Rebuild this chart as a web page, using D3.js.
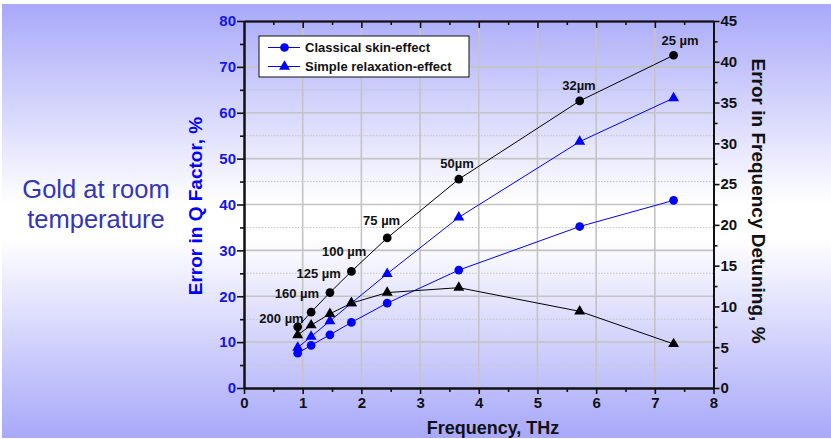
<!DOCTYPE html>
<html>
<head>
<meta charset="utf-8">
<script src="https://cdn.jsdelivr.net/npm/d3@7"></script>
<style>
  html, body { margin: 0; padding: 0; background: #ffffff; }
  svg { display: block; font-family: "Liberation Sans", Arial, sans-serif; }
</style>
</head>
<body>
<svg id="chart" width="831" height="439"></svg>
<script>
// ---- data ----
const freqTHz = [0.915, 1.144, 1.464, 1.83, 2.44, 3.66, 5.72, 7.32];
const skinQ   = [7.6, 9.3, 11.6, 14.3, 18.5, 25.7, 35.2, 40.9];
const relaxQ  = [8.8, 11.2, 14.6, 18.5, 24.9, 37.2, 53.7, 63.2];
const skinDet = [7.5, 9.3, 11.7, 14.3, 18.4, 25.6, 35.2, 40.8];
const relaxDet = [6.5, 7.7, 9.1, 10.4, 11.7, 12.3, 9.4, 5.4];
const thicknessLabels = ["200 \u00b5m", "160 \u00b5m", "125 \u00b5m", "100 \u00b5m", "75 \u00b5m", "50\u00b5m", "32\u00b5m", "25 \u00b5m"];
const xTicks = [0, 1, 2, 3, 4, 5, 6, 7, 8];
const leftTicks = [0, 10, 20, 30, 40, 50, 60, 70, 80];
const rightTicks = [0, 5, 10, 15, 20, 25, 30, 35, 40, 45];
const legendLabels = ["Classical skin-effect", "Simple relaxation-effect"];
const sideText = ["Gold at room", "temperature"];

// ---- layout ----
const svg = d3.select("#chart");
const X0 = 244, X1 = 713.5, Y0 = 388, Y1 = 21;
const x = d3.scaleLinear().domain([0, 8]).range([X0, X1]);
const yL = d3.scaleLinear().domain([0, 80]).range([Y0, Y1]);
const yR = d3.scaleLinear().domain([0, 45]).range([Y0, Y1]);
const BLUE = "#0000ff", TICKBLUE = "#1414f0";

// background gradient
const defs = svg.append("defs");
const g = defs.append("linearGradient").attr("id", "bg").attr("x1", 0).attr("y1", 0).attr("x2", 0).attr("y2", 1);
g.append("stop").attr("offset", "0").attr("stop-color", "#a8a8fa");
g.append("stop").attr("offset", "0.46").attr("stop-color", "#ffffff");
g.append("stop").attr("offset", "0.54").attr("stop-color", "#ffffff");
g.append("stop").attr("offset", "1").attr("stop-color", "#a8a8fa");
svg.append("rect").attr("x", 2).attr("y", 4).attr("width", 829).attr("height", 434).attr("fill", "url(#bg)");

// side text
svg.append("text").attr("x", 96).attr("text-anchor", "middle")
  .attr("fill", "#3535b8").attr("font-size", 25.5)
  .selectAll("tspan").data(sideText).join("tspan")
  .attr("x", 96).attr("y", (d, i) => 198 + i * 30).text(d => d);

// grid
const grid = svg.append("g");
grid.selectAll(".minh").data(d3.range(5, 80, 10)).join("line")
  .attr("x1", X0).attr("x2", X1).attr("y1", d => yL(d)).attr("y2", d => yL(d))
  .attr("stroke", "#c4c4c4").attr("stroke-width", 1).attr("stroke-dasharray", "1.5,1.5");
grid.selectAll(".majh").data(leftTicks.slice(1, -1)).join("line")
  .attr("x1", X0).attr("x2", X1).attr("y1", d => yL(d)).attr("y2", d => yL(d))
  .attr("stroke", "#c4c4c4").attr("stroke-width", 1.6);
grid.selectAll(".majv").data(xTicks.slice(1, -1)).join("line")
  .attr("y1", Y0).attr("y2", Y1).attr("x1", d => x(d)).attr("x2", d => x(d))
  .attr("stroke", "#c4c4c4").attr("stroke-width", 1.6);

// axes
function styleAxis(sel, color) {
  sel.selectAll("path").attr("stroke", "#111").attr("stroke-width", 2);
  sel.selectAll("line").attr("stroke", "#111").attr("stroke-width", 1.6);
  sel.selectAll("text").attr("fill", color).attr("font-size", 15).attr("font-weight", "bold")
    .attr("font-family", "'Liberation Sans', Arial, sans-serif");
}
const halfX = d3.range(0.5, 8, 1);
// bottom
svg.append("g").attr("transform", `translate(0,${Y0})`)
  .call(d3.axisBottom(x).tickValues(halfX).tickSize(4).tickFormat("").tickSizeOuter(0))
  .call(s => styleAxis(s, "#111"));
svg.append("g").attr("transform", `translate(0,${Y0})`)
  .call(d3.axisBottom(x).tickValues(xTicks).tickSize(6).tickPadding(3).tickSizeOuter(0).tickFormat(d3.format("d")))
  .call(s => styleAxis(s, "#111"));
// top (inward ticks)
svg.append("g").attr("transform", `translate(0,${Y1})`)
  .call(d3.axisBottom(x).tickValues(halfX).tickSize(4).tickFormat("").tickSizeOuter(0))
  .call(s => styleAxis(s, "#111"));
svg.append("g").attr("transform", `translate(0,${Y1})`)
  .call(d3.axisBottom(x).tickValues(xTicks.slice(1, -1)).tickSize(7).tickFormat("").tickSizeOuter(0))
  .call(s => { styleAxis(s, "#111"); s.select("path").attr("stroke-width", 1.4); });
// left
svg.append("g").attr("transform", `translate(${X0},0)`)
  .call(d3.axisLeft(yL).tickValues(d3.range(5, 80, 10)).tickSize(4).tickFormat("").tickSizeOuter(0))
  .call(s => styleAxis(s, TICKBLUE));
svg.append("g").attr("transform", `translate(${X0},0)`)
  .call(d3.axisLeft(yL).tickValues(leftTicks).tickSize(7).tickPadding(1).tickSizeOuter(0))
  .call(s => styleAxis(s, TICKBLUE));
// right
svg.append("g").attr("transform", `translate(${X1},0)`)
  .call(d3.axisRight(yR).tickValues(d3.range(2.5, 45, 5)).tickSize(4).tickFormat("").tickSizeOuter(0))
  .call(s => styleAxis(s, "#111"));
svg.append("g").attr("transform", `translate(${X1},0)`)
  .call(d3.axisRight(yR).tickValues(rightTicks).tickSize(6).tickPadding(1).tickSizeOuter(0))
  .call(s => styleAxis(s, "#111"));

// axis titles
svg.append("text").attr("x", 493).attr("y", 434).attr("text-anchor", "middle")
  .attr("font-size", 18).attr("font-weight", "bold").attr("fill", "#111").text("Frequency, THz");
svg.append("text").attr("transform", "translate(202,206) rotate(-90)").attr("text-anchor", "middle")
  .attr("font-size", 19).attr("font-weight", "bold").attr("fill", BLUE).text("Error in Q Factor, %");
svg.append("text").attr("transform", "translate(752,201) rotate(90)").attr("text-anchor", "middle")
  .attr("font-size", 19).attr("font-weight", "bold").attr("fill", "#111").text("Error in Frequency Detuning, %");

// series
const series = [
  { vals: skinQ, y: yL, color: BLUE, sym: d3.symbolCircle, size: 60 },
  { vals: relaxQ, y: yL, color: BLUE, sym: d3.symbolTriangle, size: 52 },
  { vals: skinDet, y: yR, color: "#000", sym: d3.symbolCircle, size: 60 },
  { vals: relaxDet, y: yR, color: "#000", sym: d3.symbolTriangle, size: 52 }
];
series.forEach(s => {
  const pts = freqTHz.map((f, i) => [x(f), s.y(s.vals[i])]);
  svg.append("path").attr("d", d3.line()(pts)).attr("fill", "none")
    .attr("stroke", s.color).attr("stroke-width", 1);
  svg.append("g").selectAll("path").data(pts).join("path")
    .attr("transform", d => `translate(${d[0]},${d[1]})`)
    .attr("d", d3.symbol().type(s.sym).size(s.size)).attr("fill", s.color);
});

// thickness labels
const labelOffsets = [[6, -4], [8, -14], [11, -15], [15, -15], [13, -13], [15, -11], [16, -11], [25, -10]];
svg.append("g").selectAll("text").data(thicknessLabels).join("text")
  .attr("x", (d, i) => x(freqTHz[i]) + labelOffsets[i][0])
  .attr("y", (d, i) => yR(skinDet[i]) + labelOffsets[i][1])
  .attr("text-anchor", "end").attr("font-size", 13).attr("font-weight", "bold").attr("fill", "#111")
  .text(d => d);

// legend
const lg = svg.append("g");
lg.append("rect").attr("x", 259).attr("y", 36).attr("width", 210).attr("height", 41)
  .attr("fill", "#fff").attr("stroke", "#111").attr("stroke-width", 1);
const syms = [d3.symbolCircle, d3.symbolTriangle];
legendLabels.forEach((t, i) => {
  const yy = 47.5 + i * 19;
  lg.append("line").attr("x1", 268).attr("x2", 300).attr("y1", yy).attr("y2", yy)
    .attr("stroke", BLUE).attr("stroke-width", 1);
  lg.append("path").attr("transform", `translate(284.5,${yy})`)
    .attr("d", d3.symbol().type(syms[i]).size(i ? 52 : 60)).attr("fill", BLUE);
  lg.append("text").attr("x", 305).attr("y", yy + 4.5).attr("font-size", 13).attr("font-weight", "bold")
    .attr("fill", "#111").text(t);
});
</script>
</body>
</html>
